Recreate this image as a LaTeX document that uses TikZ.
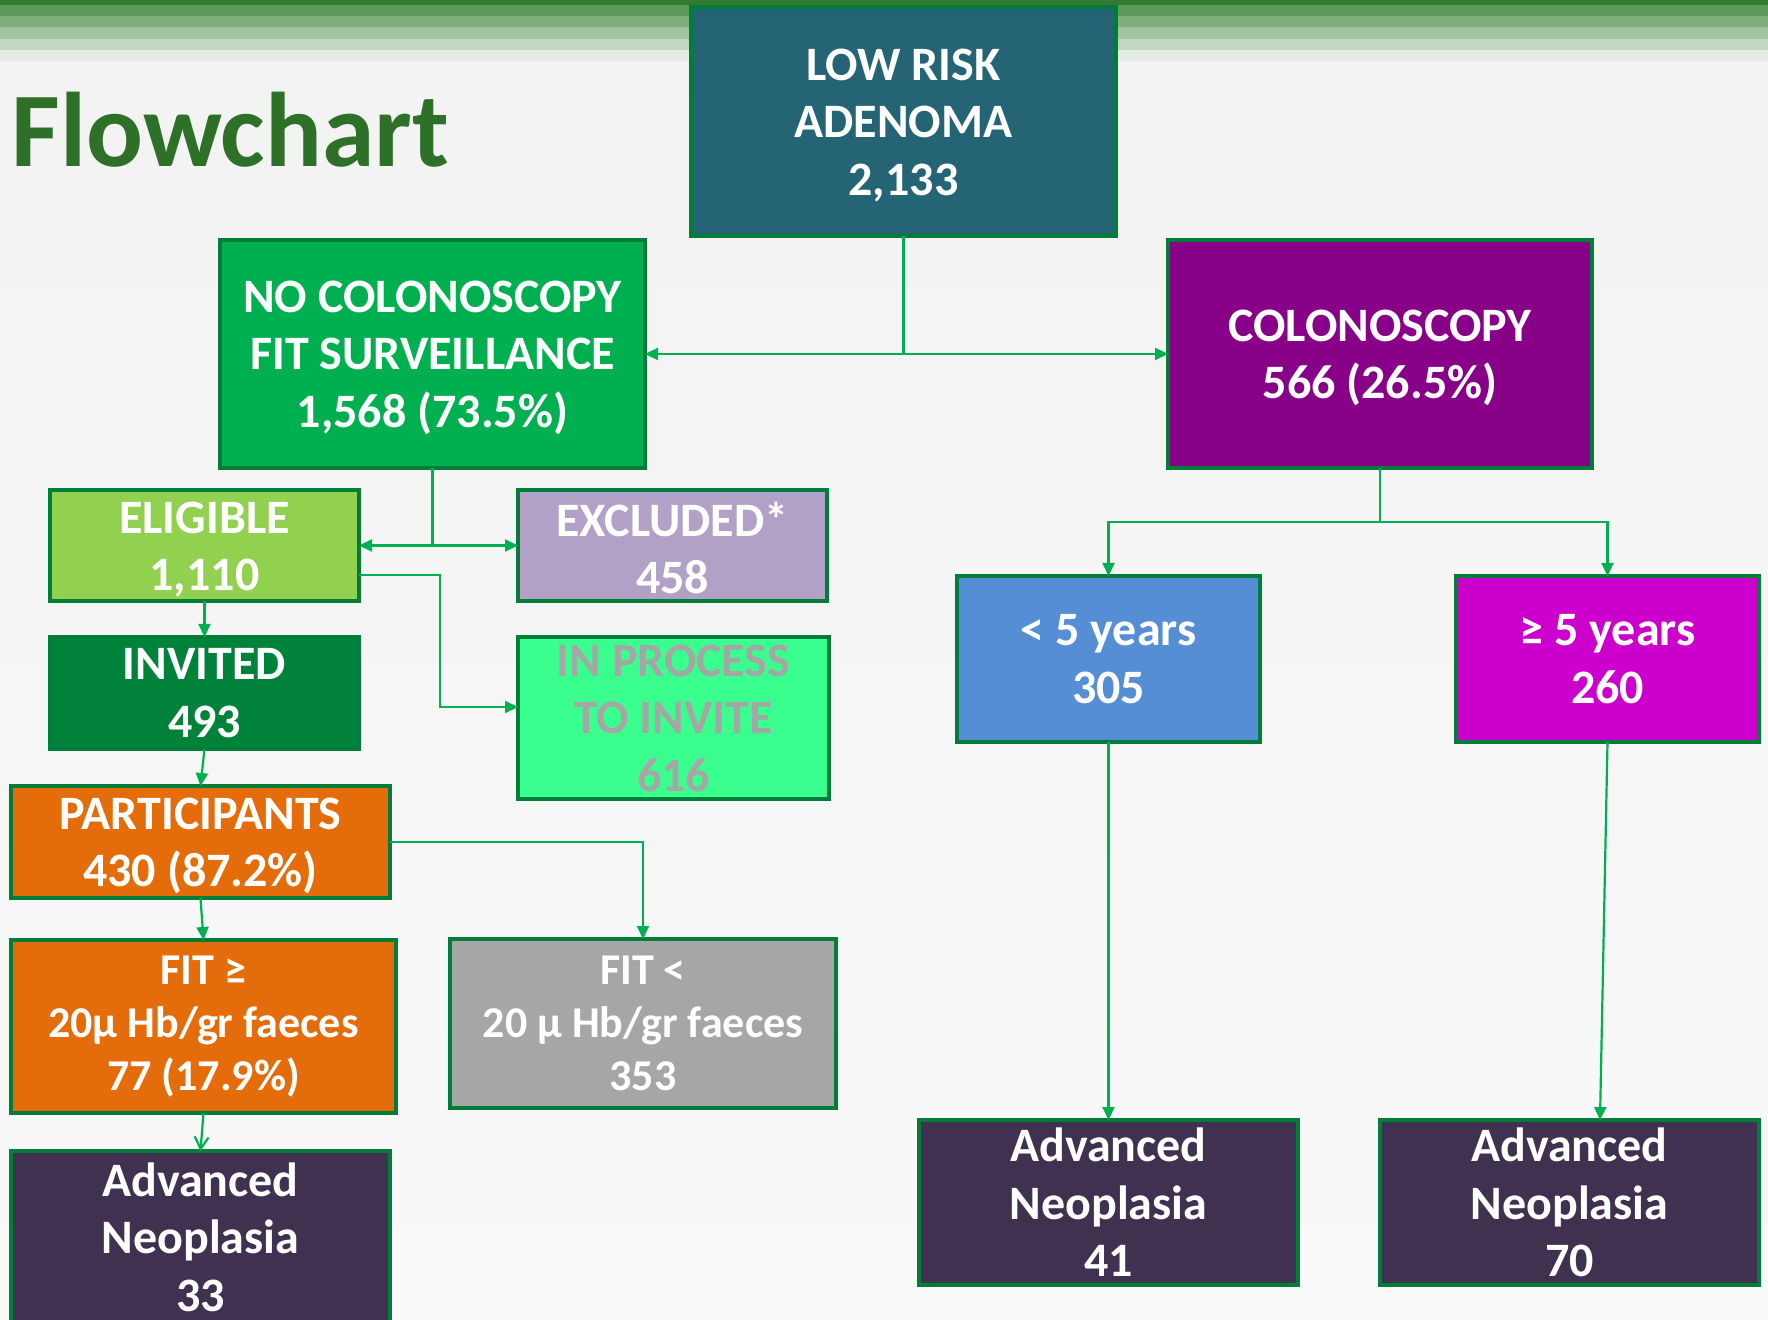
\documentclass[tikz,border=0pt]{standalone}
\usepackage{fontspec}
\setmainfont{Carlito}
\usetikzlibrary{arrows.meta}

\definecolor{BgTop}{HTML}{F2F2F2}
\definecolor{BgBottom}{HTML}{F9F9F9}
\definecolor{TitleGreen}{HTML}{2E7028}
\definecolor{BorderGreen}{HTML}{007E39}
\definecolor{LinkGreen}{HTML}{00B050}
\definecolor{LowRiskTeal}{HTML}{246474}
\definecolor{NoColGreen}{HTML}{00B050}
\definecolor{ColPurple}{HTML}{880088}
\definecolor{EligibleGreen}{HTML}{92D050}
\definecolor{ExcludedLilac}{HTML}{B2A1C7}
\definecolor{InvitedGreen}{HTML}{00823B}
\definecolor{ProcessGreen}{HTML}{3AFF8E}
\definecolor{ProcessText}{HTML}{A6A6A6}
\definecolor{PartOrange}{HTML}{E46C0A}
\definecolor{FitGray}{HTML}{A6A6A6}
\definecolor{NeoplasiaPlum}{HTML}{403151}
\definecolor{LessBlue}{HTML}{558ED5}
\definecolor{MoreMagenta}{HTML}{CC00CC}

% pushes the first line of a box a little lower
\newcommand{\TopGap}{\rule{0pt}{19.5pt}}

\begin{document}
\begin{tikzpicture}[x=0.5pt,y=-0.5pt]
  \tikzset{BoxStyle/.style = {
    shape         = rectangle,
    draw          = BorderGreen,
    line width    = 2pt,
    text          = white,
    align         = center,
    inner sep     = 0pt,
    outer sep     = 0pt,
    font          = \fontsize{24}{28.75}\selectfont\bfseries
    }
  }
  \tikzset{NeoStyle/.style = {
    BoxStyle,
    fill          = NeoplasiaPlum
    }
  }
  \tikzset{FitStyle/.style = {
    BoxStyle,
    font          = \fontsize{22}{26.5}\selectfont\bfseries
    }
  }
  \tikzset{LinkStyle/.style = {
    draw          = LinkGreen,
    line width    = 1.1pt,
    -{Triangle[length=6.5pt,width=6pt]}
    }
  }
  \tikzset{BothLinkStyle/.style = {
    LinkStyle,
    {Triangle[length=6.5pt,width=6pt]}-{Triangle[length=6.5pt,width=6pt]}
    }
  }
  \tikzset{OpenLinkStyle/.style = {
    LinkStyle,
    -{Straight Barb[length=6pt,width=7pt]}
    }
  }

  % page and header bands
  \useasboundingbox (0,0) rectangle (1768,1320);
  \shade[top color=BgTop, bottom color=BgBottom] (0,0) rectangle (1768,1320);
  \foreach \ytop/\ybot/\shade in {0/5/357A32, 5/16/5E9A5E, 16/27/7FAD7E,
                                  27/39/A3C2A2, 39/50/C3D6C2, 50/61/E4EBE3}{
    \definecolor{BandColor}{HTML}{\shade}
    \fill[BandColor] (0,\ytop) rectangle (1768,\ybot);
  }

  \node[anchor=base west, inner sep=0pt, text=TitleGreen,
        font=\fontsize{53}{60}\selectfont\bfseries] (title) at (11,167) {Flowchart};

  % boxes
  \node[BoxStyle, fill=LowRiskTeal, minimum width=212.5pt, minimum height=114.5pt]
    (low) at (903.5,121.5) {\TopGap LOW RISK\\ADENOMA\\2,133};
  \node[BoxStyle, fill=NoColGreen, minimum width=212.5pt, minimum height=114pt]
    (nocol) at (432.5,354) {\TopGap NO COLONOSCOPY\\FIT SURVEILLANCE\\1,568 (73.5\%)};
  \node[BoxStyle, fill=ColPurple, minimum width=212pt, minimum height=114pt]
    (col) at (1380,354) {\TopGap COLONOSCOPY\\566 (26.5\%)};
  \node[BoxStyle, fill=EligibleGreen, minimum width=154.5pt, minimum height=55.5pt]
    (elig) at (204.5,545.5) {\TopGap ELIGIBLE\\1,110};
  \node[BoxStyle, fill=ExcludedLilac, minimum width=154.5pt, minimum height=55.5pt]
    (excl) at (672.5,545.5) {\TopGap EXCLUDED*\\458};
  \node[BoxStyle, fill=InvitedGreen, minimum width=154.5pt, minimum height=56pt]
    (invit) at (204.5,693) {INVITED\\493};
  \node[BoxStyle, fill=ProcessGreen, text=ProcessText, minimum width=155.5pt, minimum height=81pt]
    (inproc) at (673.5,718) {IN PROCESS\\TO INVITE\\616};
  \node[BoxStyle, fill=PartOrange, minimum width=189.5pt, minimum height=56pt]
    (part) at (200.5,842) {\TopGap PARTICIPANTS\\430 (87.2\%)};
  \node[FitStyle, fill=PartOrange, minimum width=192.5pt, minimum height=86.5pt]
    (fitge) at (203.5,1026.5) {FIT ≥\\20µ Hb/gr faeces\\77 (17.9\%)};
  \node[FitStyle, fill=FitGray, minimum width=193pt, minimum height=84.5pt]
    (fitlt) at (643,1023.5) {FIT <\\20 µ Hb/gr faeces\\353};
  \node[NeoStyle, minimum width=189.5pt, minimum height=86pt]
    (neo1) at (200.5,1237) {Advanced\\Neoplasia\\33};
  \node[BoxStyle, fill=LessBlue, minimum width=151.5pt, minimum height=83pt]
    (less) at (1108.5,659) {< 5 years\\305};
  \node[BoxStyle, fill=MoreMagenta, minimum width=151.5pt, minimum height=83pt]
    (more) at (1607.5,659) {≥ 5 years\\260};
  \node[NeoStyle, minimum width=189.5pt, minimum height=82.5pt]
    (neo2) at (1108.5,1202.5) {Advanced\\Neoplasia\\41};
  \node[NeoStyle, minimum width=189.5pt, minimum height=82.5pt]
    (neo3) at (1569.5,1202.5) {Advanced\\Neoplasia\\70};

  % connectors
  \draw[LinkStyle, -] (low.south) -- (low.south |- nocol.east);
  \draw[BothLinkStyle] (nocol.east) -- (col.west);
  \draw[LinkStyle, -] (nocol.south) -- (nocol.south |- elig.east);
  \draw[BothLinkStyle] (elig.east) -- (excl.west);
  \draw[LinkStyle] ([yshift=-14.75pt]elig.east) -- ++(81,0) |- ([yshift=5.5pt]inproc.west);
  \draw[LinkStyle] (elig.south) -- (invit.north);
  \draw[LinkStyle] (invit.south) -- (part.north);
  \draw[LinkStyle] (part.east) -| (fitlt.north);
  \draw[LinkStyle] (part.south) -- (fitge.north);
  \draw[OpenLinkStyle] (fitge.south) -- (neo1.north);
  \draw[LinkStyle] (col.south) -- ++(0,54) -| (less.north);
  \draw[LinkStyle] (col.south) -- ++(0,54) -| (more.north);
  \draw[LinkStyle] (less.south) -- (neo2.north);
  \draw[LinkStyle] (more.south) -- ([xshift=15.25pt]neo3.north);

\end{tikzpicture}
\end{document}
